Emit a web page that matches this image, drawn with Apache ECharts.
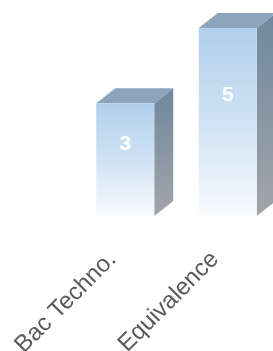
<!DOCTYPE html>
<html><head><meta charset="utf-8">
<script src="https://cdn.jsdelivr.net/npm/echarts@6/dist/echarts.min.js"></script>
<style>html,body{margin:0;padding:0;background:#fff}#c{width:273px;height:351px}</style>
</head><body><div id="c"></div>
<script>
const categories = ['Bac Techno.', 'Equivalence'];
const values = [3, 5];

const chart = echarts.init(document.getElementById('c'), null, {renderer: 'canvas'});
const FRONT_W = 58, DX = 19, DY = -15;

function renderItem(params, api) {
  const cat = api.value(0);
  const v = api.value(1);
  const top = api.coord([cat, v]);
  const base = api.coord([cat, 0]);
  const lab = api.coord([cat, v * 0.64]);
  const x0 = top[0] - FRONT_W / 2, x1 = top[0] + FRONT_W / 2;
  const yT = top[1], yB = base[1];
  return {
    type: 'group',
    children: [
      {
        type: 'polygon',
        shape: {points: [[x1, yT], [x1 + DX, yT + DY], [x1 + DX, yB + DY], [x1, yB]]},
        style: {fill: new echarts.graphic.LinearGradient(0, 0, 0, 1, [
          {offset: 0, color: '#6f889f'}, {offset: 1, color: '#a2a5a9'}])}
      },
      {
        type: 'polygon',
        shape: {points: [[x0, yT], [x0 + DX, yT + DY], [x1 + DX, yT + DY], [x1, yT]]},
        style: {fill: '#8ca5bd'}
      },
      {
        type: 'rect',
        shape: {x: x0, y: yT, width: FRONT_W, height: yB - yT},
        style: {fill: new echarts.graphic.LinearGradient(0, 0, 0, 1, [
          {offset: 0, color: '#b0cfeb'}, {offset: 0.55, color: '#d3e4f4'}, {offset: 1, color: '#f8fbfe'}])}
      },
      {
        type: 'text',
        x: lab[0], y: lab[1],
        style: {text: String(v), fill: '#ffffff', font: 'bold 21px "Liberation Sans"',
                align: 'center', verticalAlign: 'middle'}
      }
    ]
  };
}

chart.setOption({
  animation: false,
  grid: {left: 74, width: 205, top: 28, height: 188, containLabel: false, outerBoundsMode: 'none'},
  xAxis: {
    type: 'category', data: categories, boundaryGap: true,
    axisLine: {show: false}, axisTick: {show: false},
    axisLabel: {rotate: 45, margin: 27, padding: [0, 18, 0, 0], color: '#5a5a5a',
                fontSize: 24, fontFamily: 'Liberation Sans', interval: 0}
  },
  yAxis: {type: 'value', min: 0, max: 5, show: false, splitLine: {show: false}},
  series: [{
    type: 'custom', renderItem: renderItem,
    data: categories.map((c, i) => [i, values[i]]),
    encode: {x: 0, y: 1}
  }]
});
</script></body></html>
